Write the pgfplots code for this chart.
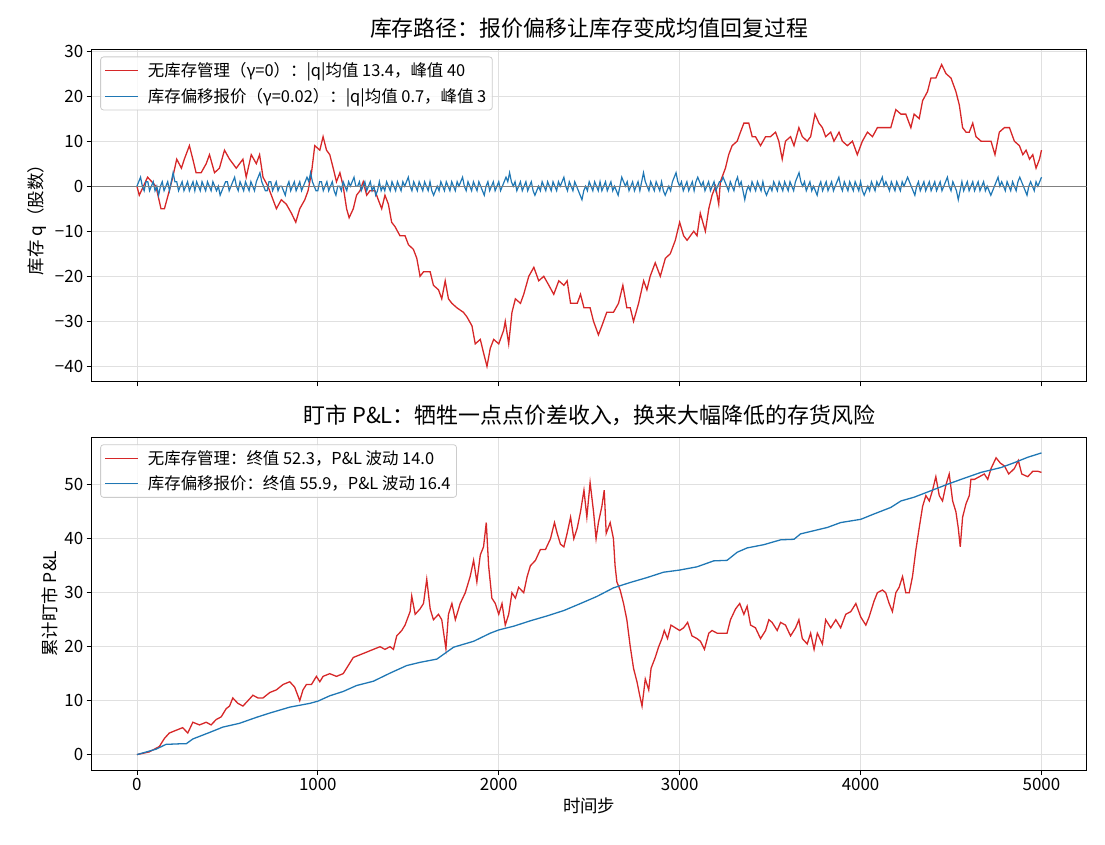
\documentclass[border=0pt]{standalone}
\usepackage{fontspec}
\setmainfont{Noto Sans CJK SC}
\usepackage{pgfplots}
\pgfplotsset{compat=1.18}
\definecolor{tabred}{HTML}{D62728}
\definecolor{tabblue}{HTML}{1F77B4}
\pgfplotsset{
  mybase/.style={
    scale only axis, width=995bp, height=332bp,
    xmin=-250, xmax=5250,
    axis line style={line width=0.8bp, black},
    tick align=outside, major tick length=5bp,
    tick style={line width=0.8bp, black},
    xtick pos=bottom, ytick pos=left,
    grid=major, major grid style={black!12, line width=0.8bp},
    xtick={0,1000,2000,3000,4000,5000},
    tick label style={font=\fontsize{17}{20}\selectfont},
    label style={font=\fontsize{17.5}{21}\selectfont},
    title style={font=\fontsize{22}{26}\selectfont, yshift=2bp},
    /pgf/number format/assume math mode=true,
    legend cell align=left,
    legend image code/.code={\draw[#1] (0bp,0bp) -- (33bp,0bp);},
    legend style={at={(0,1)}, anchor=north west, xshift=8.5bp, yshift=-7bp,
      draw=black!20, line width=0.8bp, rounded corners=3bp,
      fill=white, fill opacity=0.8, text opacity=1, draw opacity=1,
      font=\fontsize{16.5}{19}\selectfont, inner xsep=4bp, inner ysep=4bp,
      row sep=6bp, /tikz/every odd column/.append style={column sep=7bp}},
  }
}
\begin{document}
\begin{tikzpicture}
\path[use as bounding box] (0bp,0bp) rectangle (1105bp,845bp);
% ---------------- top panel ----------------
\begin{axis}[mybase, at={(91.7bp,463.5bp)}, anchor=south west,
  ymin=-43.35, ymax=30.35,
  ytick={-40,-30,-20,-10,0,10,20,30},
  yticklabels={−40,−30,−20,−10,0,10,20,30},
  xticklabels={},
  ylabel={库存 q（股数）},
  ylabel style={xshift=0bp, yshift=2bp},
  title={库存路径：报价偏移让库存变成均值回复过程}]
\addplot[tabred, line width=1.3bp] coordinates {
(0,0)(13,-2)(59,2)(105,0)(133,-5)(152,-5)(179,-1)(198,2)(220,6)(246,4)(262,6)(290,9)(309,6)(327,3)(355,3)(383,5)(401,7)(429,3)(456,4)(484,8)(512,6)(549,4)(586,6)(604,2)(632,7)(660,5)(678,7)(697,2)(724,0)(743,-2)(771,-5)(798,-3)(826,-4)(854,-6)(878,-8)(900,-5)(928,-3)(946,-1)(965,3)(983,9)(1011,8)(1029,11)(1048,8)(1066,7)(1085,4)(1103,1)(1122,3)(1140,0)(1159,-5)(1173,-7)(1196,-5)(1214,-2)(1233,-1)(1251,1)(1270,-2)(1288,-1)(1316,-1)(1334,-3)(1353,-5)(1371,-2)(1390,-4)(1408,-8)(1427,-9)(1454,-11)(1482,-11)(1501,-13)(1528,-14)(1547,-16)(1565,-20)(1584,-19)(1621,-19)(1639,-22)(1667,-23)(1685,-25)(1704,-21)(1722,-25)(1741,-26)(1769,-27)(1805,-28)(1824,-29)(1852,-31)(1870,-35)(1898,-34)(1916,-37)(1935,-40)(1953,-36)(1972,-34)(2000,-35)(2027,-32)(2036,-30)(2055,-35)(2073,-28)(2092,-25)(2120,-26)(2138,-24)(2166,-20)(2194,-18)(2221,-21)(2249,-20)(2277,-22)(2304,-24)(2332,-21)(2360,-22)(2378,-21)(2397,-26)(2434,-26)(2452,-24)(2471,-27)(2505,-27)(2524,-30)(2551,-33)(2570,-31)(2597,-28)(2634,-28)(2662,-26)(2686,-22)(2708,-27)(2727,-27)(2745,-30)(2773,-26)(2801,-21)(2819,-23)(2837,-20)(2865,-17)(2893,-20)(2921,-16)(2948,-15)(2976,-12)(3000,-8)(3022,-11)(3041,-12)(3078,-10)(3096,-11)(3114,-6)(3142,-10)(3161,-5)(3179,-2)(3198,0)(3216,-4)(3225,1)(3253,4)(3271,7)(3290,9)(3318,10)(3336,12)(3355,14)(3382,14)(3401,11)(3419,11)(3447,9)(3475,11)(3502,11)(3530,12)(3548,10)(3567,6)(3585,10)(3613,11)(3632,9)(3659,13)(3678,11)(3705,10)(3724,11)(3748,16)(3770,14)(3789,13)(3807,11)(3835,12)(3853,10)(3881,12)(3899,10)(3927,9)(3955,10)(3982,7)(4010,10)(4038,12)(4066,11)(4093,13)(4121,13)(4139,13)(4167,13)(4195,17)(4223,16)(4250,16)(4278,13)(4296,16)(4324,15)(4343,19)(4370,21)(4389,24)(4416,24)(4448,27)(4472,25)(4500,24)(4527,21)(4546,18)(4564,13)(4583,12)(4601,12)(4620,14)(4638,11)(4666,10)(4693,10)(4721,10)(4743,7)(4767,12)(4795,13)(4823,13)(4850,10)(4878,9)(4897,7)(4915,8)(4934,6)(4952,7)(4970,4)(4989,6)(5000,8)
};
\addlegendentry{无库存管理（γ=0）：|q|均值 13.4，峰值 40}
\addplot[tabblue, line width=1.2bp] coordinates {
(0,0)(10,1)(20,2)(30,0)(40,-1)(50,1)(60,1)(70,-1)(80,0)(90,1)(100,-1)(110,0)(120,-2)(130,0)(140,1)(150,-1)(160,0)(170,1)(180,-1)(190,1)
(200,3)(210,1)(220,1)(230,-1)(240,0)(250,1)(260,-1)(270,0)(280,1)(290,-1)(300,0)(310,1)(320,-1)(330,1)(340,0)(350,-1)(360,1)(370,0)(380,-1)(390,1)
(400,0)(410,-1)(420,1)(430,0)(440,-1)(450,0)(460,-2)(470,-1)(480,0)(490,1)(500,1)(510,-1)(520,0)(530,1)(540,2)(550,0)(560,-1)(570,1)(580,0)(590,-1)
(600,1)(610,0)(620,-1)(630,1)(640,0)(650,-1)(660,1)(670,2)(680,3)(690,1)(700,0)(710,-1)(720,-1)(730,1)(740,1)(750,-1)(760,0)(770,1)(780,-1)(790,0)
(800,0)(810,-1)(820,-2)(830,0)(840,1)(850,-1)(860,0)(870,1)(880,-1)(890,0)(900,1)(910,-1)(920,0)(930,1)(940,2)(950,1)(960,3)(970,1)(980,0)(990,-1)
(1000,-1)(1010,1)(1020,1)(1030,-1)(1040,0)(1050,1)(1060,-1)(1070,0)(1080,1)(1090,-1)(1100,-2)(1110,0)(1120,0)(1130,-1)(1140,1)(1150,0)(1160,-1)(1170,1)(1180,0)(1190,1)
(1200,2)(1210,0)(1220,0)(1230,1)(1240,-1)(1250,0)(1260,1)(1270,-1)(1280,0)(1290,1)(1300,-1)(1310,0)(1320,-2)(1330,-1)(1340,1)(1350,-1)(1360,0)(1370,-1)(1380,1)(1390,0)
(1400,-1)(1410,1)(1420,0)(1430,-1)(1440,1)(1450,0)(1460,-1)(1470,1)(1480,0)(1490,1)(1500,2)(1510,0)(1520,-1)(1530,1)(1540,0)(1550,-1)(1560,1)(1570,0)(1580,-1)(1590,1)
(1600,0)(1610,-1)(1620,1)(1630,-1)(1640,-2)(1650,-1)(1660,0)(1670,-1)(1680,1)(1690,0)(1700,-1)(1710,1)(1720,0)(1730,-1)(1740,1)(1750,0)(1760,-1)(1770,1)(1780,0)(1790,1)
(1800,2)(1810,0)(1820,-1)(1830,1)(1840,0)(1850,-1)(1860,1)(1870,0)(1880,-1)(1890,1)(1900,0)(1910,-1)(1920,-2)(1930,0)(1940,1)(1950,-1)(1960,0)(1970,1)(1980,-1)(1990,0)
(2000,1)(2010,-1)(2020,0)(2030,1)(2040,2)(2050,1)(2060,3)(2070,1)(2080,0)(2090,1)(2100,-1)(2110,0)(2120,1)(2130,-1)(2140,0)(2150,1)(2160,-1)(2170,0)(2180,1)(2190,-1)
(2200,-2)(2210,-1)(2220,0)(2230,-1)(2240,1)(2250,0)(2260,-1)(2270,1)(2280,0)(2290,-1)(2300,1)(2310,0)(2320,-1)(2330,1)(2340,0)(2350,1)(2360,2)(2370,0)(2380,-1)(2390,1)
(2400,0)(2410,-1)(2420,1)(2430,0)(2440,-1)(2450,-2)(2460,-3)(2470,-1)(2480,0)(2490,-1)(2500,1)(2510,0)(2520,-1)(2530,1)(2540,0)(2550,-1)(2560,1)(2570,-1)(2580,0)(2590,1)
(2600,-1)(2610,0)(2620,1)(2630,-1)(2640,0)(2650,-1)(2660,-2)(2670,0)(2680,2)(2690,1)(2700,0)(2710,1)(2720,-1)(2730,0)(2740,1)(2750,-1)(2760,0)(2770,1)(2780,-1)(2790,1)
(2800,3)(2810,1)(2820,0)(2830,-1)(2840,1)(2850,0)(2860,-1)(2870,1)(2880,0)(2890,-1)(2900,1)(2910,-1)(2920,-2)(2930,-1)(2940,0)(2950,-1)(2960,1)(2970,2)(2980,3)(2990,1)
(3000,0)(3010,1)(3020,-1)(3030,0)(3040,1)(3050,-1)(3060,0)(3070,1)(3080,-1)(3090,1)(3100,2)(3110,1)(3120,0)(3130,1)(3140,-1)(3150,0)(3160,1)(3170,-1)(3180,0)(3190,1)
(3200,-1)(3210,0)(3220,1)(3230,1)(3240,2)(3250,1)(3260,0)(3270,-1)(3280,1)(3290,0)(3300,-1)(3310,1)(3320,2)(3330,0)(3340,1)(3350,-1)(3360,-3)(3370,-1)(3380,0)(3390,-1)
(3400,1)(3410,0)(3420,-1)(3430,1)(3440,0)(3450,-1)(3460,1)(3470,-1)(3480,-2)(3490,-1)(3500,0)(3510,-1)(3520,1)(3530,0)(3540,-1)(3550,1)(3560,0)(3570,-1)(3580,1)(3590,0)
(3600,-1)(3610,1)(3620,0)(3630,-1)(3640,1)(3650,2)(3660,3)(3670,1)(3680,0)(3690,1)(3700,-1)(3710,0)(3720,1)(3730,-1)(3740,0)(3750,-1)(3760,-2)(3770,0)(3780,1)(3790,-1)
(3800,0)(3810,1)(3820,-1)(3830,0)(3840,1)(3850,-1)(3860,0)(3870,1)(3880,2)(3890,0)(3900,-1)(3910,1)(3920,0)(3930,-1)(3940,1)(3950,0)(3960,-1)(3970,1)(3980,0)(3990,-1)
(4000,1)(4010,-1)(4020,-2)(4030,-1)(4040,0)(4050,-1)(4060,1)(4070,0)(4080,-1)(4090,1)(4100,0)(4110,1)(4120,2)(4130,0)(4140,1)(4150,0)(4160,-1)(4170,1)(4180,0)(4190,-1)
(4200,1)(4210,0)(4220,-1)(4230,1)(4240,0)(4250,1)(4260,2)(4270,1)(4280,0)(4290,-1)(4300,-2)(4310,0)(4320,1)(4330,-1)(4340,0)(4350,1)(4360,-1)(4370,0)(4380,1)(4390,-1)
(4400,0)(4410,1)(4420,-1)(4430,0)(4440,1)(4450,-1)(4460,0)(4470,1)(4480,2)(4490,0)(4500,-1)(4510,1)(4520,0)(4530,-1)(4540,-3)(4550,-1)(4560,1)(4570,-1)(4580,0)(4590,1)
(4600,-1)(4610,0)(4620,1)(4630,-1)(4640,0)(4650,1)(4660,-1)(4670,0)(4680,1)(4690,-1)(4700,0)(4710,-1)(4720,-2)(4730,-1)(4740,0)(4750,1)(4760,2)(4770,0)(4780,1)(4790,0)
(4800,-1)(4810,1)(4820,0)(4830,-1)(4840,1)(4850,0)(4860,-1)(4870,1)(4880,2)(4890,1)(4900,0)(4910,-1)(4920,-2)(4930,0)(4940,1)(4950,0)(4960,-1)(4970,1)(4980,0)(4990,1)
(5000,2)
};
\addlegendentry{库存偏移报价（γ=0.02）：|q|均值 0.7，峰值 3}
\addplot[black!50, line width=1.1bp, forget plot] coordinates {(-250,0)(5250,0)};
\end{axis}
% ---------------- bottom panel ----------------
\begin{axis}[mybase, at={(91.7bp,75bp)}, anchor=south west, height=332.7bp,
  ymin=-2.85, ymax=58.8,
  ytick={0,10,20,30,40,50},
  yticklabels={0,10,20,30,40,50},
  xticklabels={0,1000,2000,3000,4000,5000},
  xlabel={时间步},
  ylabel={累计盯市 P\&L},
  title={盯市 P\&L：牺牲一点点价差收入，换来大幅降低的存货风险}]
\addplot[tabred, line width=1.3bp] coordinates {
(0,0)(68,0.5)(124,1.5)(152,3)(179,4)(216,4.5)(253,5)(281,4)(309,6)(346,5.5)(383,6)(410,5.5)(438,6.5)(466,7)(493,8.5)(512,9)(530,10.5)(558,9.5)(586,9)(614,10)(641,11)(669,10.5)(697,10.5)(734,11.5)(771,12)(808,13)(845,13.5)(872,12.5)(900,10)(918,12)(937,13)(965,13)(992,14.5)(1011,13.5)(1029,14.5)(1066,15)(1103,14.5)(1140,15)(1168,16.5)(1196,18)(1233,18.5)(1270,19)(1307,19.5)(1344,20)(1371,19.5)(1399,20)(1418,19.5)(1436,22)(1464,23)(1482,24)(1510,26.5)(1519,29.4)(1538,26)(1565,27)(1584,28)(1602,32.5)(1621,27)(1639,25)(1667,26)(1685,25)(1708,19.6)(1722,26)(1741,28)(1760,25)(1787,28)(1815,30)(1842,33)(1861,36)(1879,32)(1898,37)(1916,38.5)(1931,43)(1944,35)(1962,29)(1981,28)(2000,26)(2018,28)(2036,24)(2055,26)(2073,30)(2092,29)(2110,31)(2138,30)(2157,33)(2175,35)(2203,36)(2230,38)(2258,38)(2286,40)(2308,43)(2323,41)(2341,39)(2360,38.5)(2378,41)(2397,44)(2415,40)(2434,42)(2452,45)(2471,49)(2487,44)(2505,50.4)(2524,45)(2538,40)(2551,43)(2570,46)(2583,49)(2594,41)(2616,43)(2634,40)(2643,35)(2653,32)(2671,30.5)(2690,28)(2708,25)(2727,20)(2745,16)(2764,13.5)(2779,11)(2792,9)(2810,14)(2829,12)(2842,16)(2865,18)(2884,20)(2902,21.5)(2915,23)(2933,21.5)(2952,24)(2976,23.5)(3000,23)(3022,23.5)(3044,24.5)(3068,22)(3096,21.5)(3115,21)(3137,19.5)(3161,22.5)(3179,23)(3207,22.5)(3235,22.5)(3262,22.5)(3281,25)(3309,27)(3332,28)(3355,26)(3373,27.5)(3392,24)(3419,23.5)(3447,21.5)(3475,23)(3493,25)(3511,24.5)(3539,23)(3558,24.5)(3585,24)(3613,22)(3641,23.5)(3659,25)(3678,21.5)(3705,20.5)(3724,22.5)(3743,19.5)(3761,22.5)(3789,20.5)(3807,25)(3835,23.5)(3863,25)(3890,23.5)(3918,26)(3946,26.5)(3974,28)(4001,25.5)(4029,24)(4047,25.5)(4075,28.5)(4093,30)(4121,30.5)(4139,30)(4158,28)(4176,26.5)(4195,30)(4213,31)(4232,33)(4250,30)(4269,30)(4287,33)(4306,38)(4324,42)(4343,46)(4361,48)(4380,47)(4398,49)(4416,51.5)(4435,48)(4453,47)(4472,50)(4490,52)(4509,47)(4527,45)(4540,42)(4551,38.5)(4564,44)(4583,46.5)(4601,48)(4610,51)(4629,51)(4657,51.5)(4684,52)(4703,51)(4721,53)(4749,55)(4773,54)(4795,53.5)(4819,52)(4850,53)(4872,54.5)(4891,52)(4924,51.5)(4952,52.5)(4980,52.5)(5000,52.3)
};
\addlegendentry{无库存管理：终值 52.3，P\&L 波动 14.0}
\addplot[tabblue, line width=1.3bp] coordinates {
(0,0)(105,1.0)(161,1.9)(235,2.0)(272,2.0)(309,2.9)(401,4.1)(475,5.1)(567,5.8)(660,6.9)(734,7.7)(845,8.8)(956,9.5)(1000,9.9)(1066,10.9)(1140,11.7)(1214,12.8)(1307,13.6)(1399,15.1)(1491,16.5)(1565,17.1)(1658,17.7)(1750,19.9)(1861,21.0)(1953,22.5)(2000,23.1)(2083,23.8)(2175,24.8)(2267,25.7)(2360,26.7)(2452,28.0)(2542,29.3)(2634,30.9)(2727,31.9)(2819,32.8)(2911,33.8)(3000,34.2)(3096,34.8)(3188,35.9)(3262,36.0)(3318,37.5)(3373,38.3)(3465,38.9)(3558,39.8)(3632,39.9)(3668,40.9)(3743,41.5)(3817,42.1)(3890,43.0)(4001,43.6)(4075,44.6)(4167,45.8)(4223,47.0)(4296,47.7)(4389,48.9)(4481,50.1)(4555,51.0)(4666,52.3)(4777,53.2)(4850,54.1)(4924,55.1)(5000,55.9)
};
\addlegendentry{库存偏移报价：终值 55.9，P\&L 波动 16.4}
\end{axis}
\end{tikzpicture}
\end{document}
